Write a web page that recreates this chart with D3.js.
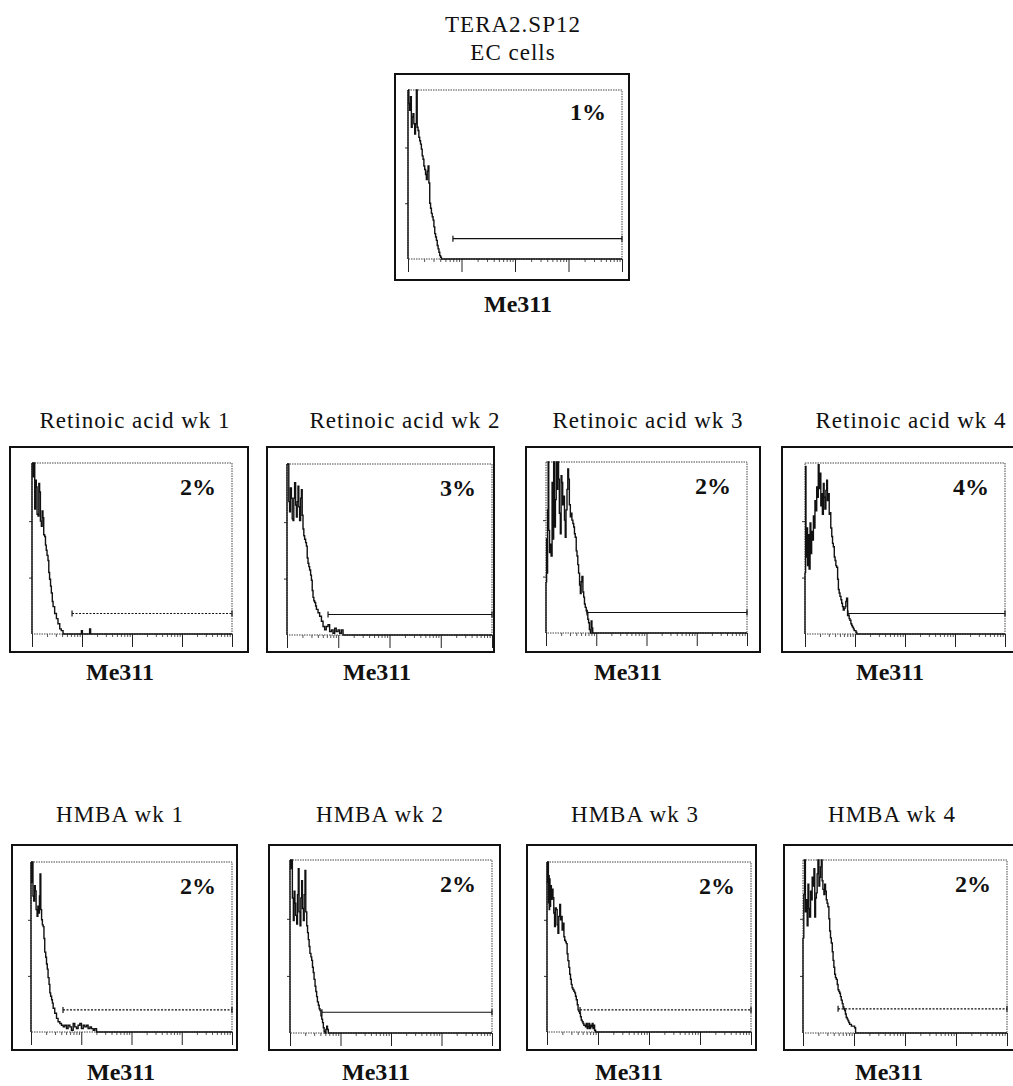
<!DOCTYPE html>
<html>
<head>
<meta charset="utf-8">
<script src="https://cdn.jsdelivr.net/npm/d3@7"></script>
<style>
  html, body { margin: 0; padding: 0; background: #fff; }
  svg { display: block; }
</style>
</head>
<body>
<svg id="chart" width="1013" height="1086"></svg>
<script>
// ---------- DATA (channel 0..1024 = 4 log decades, count as % of max) ----------
const panelTitles = ["TERA2.SP12|EC cells",
  "Retinoic acid wk 1", "Retinoic acid wk 2", "Retinoic acid wk 3", "Retinoic acid wk 4",
  "HMBA wk 1", "HMBA wk 2", "HMBA wk 3", "HMBA wk 4"];
const axisLabel = "Me311";
const percentPositive = ["1%", "2%", "3%", "2%", "4%", "2%", "2%", "2%", "2%"];
const gateStart = [215, 205, 205, 209, 220, 163, 162, 166, 176];   // channel
const gateLevel = [12, 12, 12, 12, 12, 13, 12, 13, 14];            // count
const gateSolid = [true, false, true, true, true, false, true, false, false];
const decadeTicks = [1, 10, 100, 1000, 10000];

const histEC = [[0,100],[4,92],[8,88],[12,96],[16,78],[20,84],[24,86],[28,80],[32,74],[36,80],[40,100],[44,78],[48,76],[52,72],[56,70],[60,68],[64,65],[68,61],[72,59],[76,55],[80,53],[84,50],[88,47],[92,52],[96,55],[100,45],[104,33],[108,30],[112,27],[116,25],[120,23],[124,19],[128,15],[132,13],[136,11],[140,8],[144,6],[148,4],[152,2],[156,1],[160,0],[1024,0]];
const histRA1 = [[0,100],[5,92],[9,100],[14,73],[18,90],[22,86],[26,70],[31,69],[35,88],[39,83],[43,66],[48,63],[52,72],[56,68],[60,58],[65,57],[69,52],[73,49],[77,46],[82,43],[86,36],[90,32],[95,28],[99,24],[104,19],[108,16],[116,12],[125,9],[133,6],[142,3],[150,2],[159,0],[250,0],[253,2],[258,0],[292,0],[295,3],[300,0],[1024,0]];
const histRA2 = [[0,100],[5,100],[9,78],[13,72],[17,86],[22,80],[26,68],[30,67],[34,80],[38,89],[43,76],[47,69],[51,78],[55,87],[59,75],[63,67],[68,80],[72,85],[76,70],[80,62],[84,58],[88,56],[93,54],[97,52],[101,45],[105,42],[109,40],[113,38],[118,35],[122,32],[126,26],[130,22],[134,20],[138,19],[143,17],[147,15],[155,13],[163,11],[172,8],[180,5],[188,3],[196,5],[205,6],[213,2],[222,3],[230,1],[238,4],[246,2],[255,3],[263,1],[272,3],[280,0],[1024,0]];
const histRA3 = [[0,30],[3,55],[5,35],[8,72],[11,100],[14,60],[18,47],[22,52],[26,45],[31,88],[35,55],[39,100],[43,62],[48,78],[52,100],[56,84],[60,100],[64,90],[68,70],[73,58],[77,92],[81,88],[85,75],[90,80],[94,66],[98,56],[102,72],[107,84],[111,96],[115,90],[119,75],[124,68],[128,70],[132,66],[137,64],[141,62],[145,58],[149,56],[154,48],[158,45],[162,40],[166,35],[171,28],[175,23],[179,30],[183,33],[188,24],[192,21],[196,17],[200,15],[205,13],[209,12],[213,8],[217,6],[221,2],[226,0],[230,7],[234,3],[238,0],[1024,0]];
const histRA4 = [[0,36],[3,98],[5,45],[9,62],[13,40],[17,58],[21,38],[26,65],[30,47],[34,60],[38,55],[43,69],[47,62],[51,78],[55,72],[60,86],[64,80],[68,99],[72,85],[77,94],[81,75],[85,82],[89,70],[94,88],[98,80],[102,73],[107,84],[111,90],[115,78],[119,82],[124,70],[128,71],[132,62],[137,57],[141,53],[145,51],[150,45],[154,43],[158,40],[162,39],[167,32],[171,26],[175,24],[179,22],[184,20],[188,18],[192,16],[196,14],[201,15],[205,16],[209,19],[213,21],[218,11],[222,11],[226,9],[230,8],[235,6],[239,5],[243,4],[248,3],[252,2],[256,2],[261,1],[265,0],[1024,0]];
const histHM1 = [[0,100],[4,88],[7,100],[10,80],[14,77],[18,86],[22,83],[26,72],[31,68],[35,74],[39,70],[43,80],[46,93],[50,72],[54,66],[58,63],[62,62],[66,55],[70,47],[75,44],[79,40],[83,37],[87,32],[92,28],[96,23],[100,21],[105,19],[109,17],[113,14],[121,11],[130,8],[138,6],[147,5],[155,4],[164,3],[172,4],[181,2],[189,4],[198,3],[206,1],[215,5],[223,3],[232,2],[240,4],[249,5],[257,2],[266,4],[274,3],[283,4],[291,2],[300,3],[308,2],[317,1],[325,2],[334,0],[1024,0]];
const histHM2 = [[0,100],[4,95],[8,100],[12,78],[17,65],[21,82],[25,75],[29,68],[34,63],[38,80],[42,95],[46,70],[51,62],[55,78],[59,88],[63,72],[68,65],[72,80],[76,94],[80,70],[85,62],[89,58],[93,54],[97,50],[101,46],[106,44],[110,42],[114,38],[118,35],[122,31],[127,27],[131,24],[135,21],[139,18],[144,16],[148,14],[152,13],[157,10],[161,8],[165,6],[169,3],[173,1],[177,0],[182,2],[186,4],[190,2],[194,0],[1024,0]];
const histHM3 = [[0,100],[3,88],[5,100],[7,76],[9,92],[11,72],[13,90],[15,74],[18,86],[22,78],[26,84],[30,79],[34,70],[38,62],[42,73],[47,72],[51,63],[55,58],[59,68],[64,75],[68,66],[72,68],[76,60],[80,64],[85,56],[89,54],[93,53],[97,52],[101,46],[105,42],[110,38],[114,34],[118,31],[122,28],[126,26],[130,25],[135,24],[139,23],[143,21],[147,19],[152,16],[156,13],[160,12],[164,11],[168,9],[172,7],[177,6],[181,5],[185,4],[189,4],[193,3],[197,5],[202,2],[206,3],[210,5],[214,2],[219,4],[223,3],[227,5],[231,2],[235,4],[239,1],[244,0],[1024,0]];
const histHM4 = [[0,55],[4,80],[8,100],[12,70],[17,77],[21,62],[25,86],[29,72],[33,67],[38,82],[42,77],[46,90],[50,85],[55,95],[59,67],[63,78],[67,81],[71,92],[75,100],[80,85],[84,90],[88,96],[92,100],[96,88],[100,83],[105,80],[109,86],[113,82],[117,77],[121,75],[125,73],[130,66],[134,59],[138,55],[142,52],[147,47],[151,42],[155,38],[159,34],[163,32],[167,31],[172,28],[176,25],[180,24],[184,23],[188,21],[192,19],[197,17],[201,15],[205,14],[209,13],[213,11],[217,9],[222,8],[226,7],[230,6],[234,5],[243,4],[251,4],[259,3],[264,0],[1024,0]];
const histograms = [histEC, histRA1, histRA2, histRA3, histRA4, histHM1, histHM2, histHM3, histHM4];

// ---------- LAYOUT (pixels) ----------
const layout = [
  {outer:[395,74,629,280],  inner:[408,90,622,259],  tx:513, ty:[32,60], lx:518, ly:312},
  {outer:[10,447,248,652],  inner:[32,463,232,634],  tx:135, ty:[428], lx:120, ly:680},
  {outer:[267,447,494,652], inner:[287,464,492,635], tx:405, ty:[428], lx:377, ly:680},
  {outer:[526,447,760,652], inner:[546,462,747,633], tx:648, ty:[428], lx:628, ly:680},
  {outer:[782,447,1016,652],inner:[805,463,1005,634],tx:911, ty:[428], lx:890, ly:680},
  {outer:[12,845,237,1050], inner:[31,862,232,1032], tx:120, ty:[822], lx:121, ly:1080},
  {outer:[269,845,500,1050],inner:[290,860,492,1033],tx:380, ty:[822], lx:376, ly:1080},
  {outer:[527,845,756,1050],inner:[547,862,751,1032],tx:635, ty:[822], lx:629, ly:1080},
  {outer:[784,845,1016,1050],inner:[803,860,1007,1033],tx:892,ty:[822], lx:889, ly:1080}
];

const svg = d3.select("#chart");
const serif = "'Liberation Serif', 'Times New Roman', Times, serif";

layout.forEach((L, i) => {
  const g = svg.append("g");
  const [ix0, iy0, ix1, iy1] = L.inner;
  const x = d3.scaleLinear().domain([0, 1024]).range([ix0, ix1]);
  const xLog = d3.scaleLog().domain([1, 10000]).range([ix0, ix1]);
  const y = d3.scaleLinear().domain([0, 100]).range([iy1, iy0]);

  const [ox0, oy0, ox1, oy1] = L.outer;
  g.append("rect").attr("x", ox0).attr("y", oy0).attr("width", ox1 - ox0).attr("height", oy1 - oy0)
    .attr("fill", "none").attr("stroke", "#111").attr("stroke-width", 2);

  g.append("rect").attr("x", ix0).attr("y", iy0).attr("width", ix1 - ix0).attr("height", iy1 - iy0)
    .attr("fill", "none").attr("stroke", "#444").attr("stroke-width", 1).attr("stroke-dasharray", "1.5,1");

  const minor = [];
  for (let d = 1; d < 10000; d *= 10) for (let k = 2; k <= 9; k++) minor.push(d * k);
  const axMinor = d3.axisBottom(xLog).tickValues(minor).tickSize(3).tickFormat("");
  const axMajor = d3.axisBottom(xLog).tickValues(decadeTicks).tickSize(13).tickFormat("");
  const gm = g.append("g").attr("transform", `translate(0,${iy1})`).call(axMinor);
  const gM = g.append("g").attr("transform", `translate(0,${iy1})`).call(axMajor);
  [gm, gM].forEach(a => { a.select(".domain").remove(); a.selectAll("line").attr("stroke", "#222").attr("stroke-width", 1); });
  gm.selectAll("line").attr("stroke", "#555");

  const axL = d3.axisLeft(y).tickValues([33, 66]).tickSize(3).tickFormat("");
  const gl = g.append("g").attr("transform", `translate(${ix0},0)`).call(axL);
  gl.select(".domain").remove();
  gl.selectAll("line").attr("stroke", "#333");

  const line = d3.line().x(d => x(d[0])).y(d => y(d[1])).curve(d3.curveStepAfter);
  g.append("path").datum(histograms[i]).attr("d", line)
    .attr("fill", "none").attr("stroke", "#111").attr("stroke-width", 1.4);
  g.append("line").attr("x1", x(0)).attr("x2", x(0)).attr("y1", y(0)).attr("y2", y(histograms[i][0][1]))
    .attr("stroke", "#111").attr("stroke-width", 1.4);

  const gy = y(gateLevel[i]);
  const gate = g.append("g").attr("stroke", "#111").attr("stroke-width", 1.2);
  gate.append("line").attr("x1", x(gateStart[i])).attr("x2", x(1024)).attr("y1", gy).attr("y2", gy)
    .attr("stroke-dasharray", gateSolid[i] ? null : "2,1.5");
  gate.append("line").attr("x1", x(gateStart[i])).attr("x2", x(gateStart[i])).attr("y1", gy - 3).attr("y2", gy + 3);
  gate.append("line").attr("x1", x(1024)).attr("x2", x(1024)).attr("y1", gy - 3).attr("y2", gy + 3);

  g.append("text").attr("x", ix1 - 16).attr("y", iy0 + (i === 0 ? 30 : 32))
    .attr("text-anchor", "end").attr("font-family", serif).attr("font-weight", "bold")
    .attr("font-size", 24).attr("fill", "#111").text(percentPositive[i]);

  panelTitles[i].split("|").forEach((t, k) => {
    g.append("text").attr("x", L.tx).attr("y", L.ty[k]).attr("text-anchor", "middle")
      .attr("font-family", serif).attr("font-size", 23).attr("letter-spacing", "1px")
      .attr("fill", "#111").text(t);
  });

  g.append("text").attr("x", L.lx).attr("y", L.ly).attr("text-anchor", "middle")
    .attr("font-family", serif).attr("font-weight", "bold").attr("font-size", 24)
    .attr("fill", "#111").text(axisLabel);
});
</script>
</body>
</html>
